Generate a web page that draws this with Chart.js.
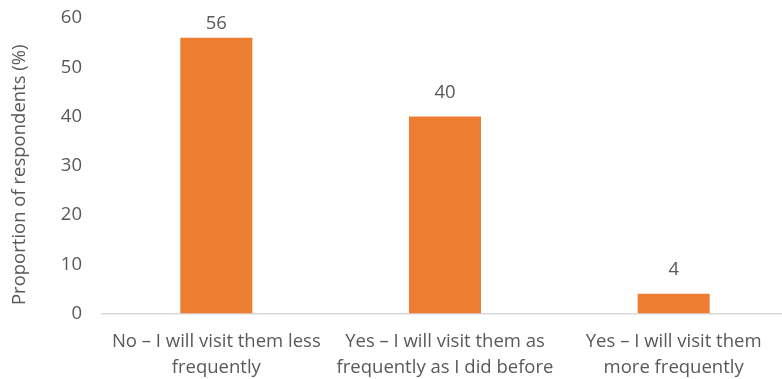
<!DOCTYPE html>
<html>
<head>
<meta charset="utf-8">
<script src="https://cdn.jsdelivr.net/npm/chart.js@4/dist/chart.umd.min.js"></script>
<style>
  html, body { margin: 0; padding: 0; background: #fff; overflow: hidden; }
  #wrap { width: 800px; height: 379px; }
</style>
</head>
<body>
<div id="wrap"><canvas id="c" width="800" height="379"></canvas></div>
<script>
// Survey answers: will respondents visit them as often as before?
const categories = [
  ["No \u2013 I will visit them less", "frequently"],
  ["Yes \u2013 I will visit them as", "frequently as I did before"],
  ["Yes \u2013 I will visit them", "more frequently"]
];
const proportions = [56, 40, 4];
const yTicks = [0, 10, 20, 30, 40, 50, 60];
const yTitle = 'Proportion of respondents (%)';

const FONT = "'Open Sans', sans-serif";
const SIZE = 18.5;
const TEXT = '#595959';

// Writes each bar's value above it, kept inside the plot area
const valueLabels = {
  id: 'valueLabels',
  afterDatasetsDraw(chart) {
    const ctx = chart.ctx;
    const meta = chart.getDatasetMeta(0);
    ctx.save();
    ctx.font = SIZE + 'px ' + FONT;
    ctx.fillStyle = TEXT;
    ctx.textAlign = 'center';
    ctx.textBaseline = 'middle';
    meta.data.forEach((bar, i) => {
      const y = Math.max(bar.y - 24, chart.chartArea.top + 6);
      ctx.fillText(String(proportions[i]), bar.x, y);
    });
    ctx.restore();
  }
};

// Vertical axis title, set a little below the plot's midline
const axisTitle = {
  id: 'axisTitle',
  afterDraw(chart) {
    const ctx = chart.ctx;
    const a = chart.chartArea;
    ctx.save();
    ctx.font = SIZE + 'px ' + FONT;
    ctx.fillStyle = TEXT;
    ctx.textAlign = 'center';
    ctx.textBaseline = 'middle';
    ctx.translate(20, (a.top + a.bottom) / 2 + 9);
    ctx.rotate(-Math.PI / 2);
    ctx.fillText(yTitle, 0, 0);
    ctx.restore();
  }
};

new Chart(document.getElementById('c'), {
  type: 'bar',
  data: {
    labels: categories,
    datasets: [{
      data: proportions,
      backgroundColor: '#ED7D31',
      borderWidth: 0,
      categoryPercentage: 1,
      barPercentage: 0.315
    }]
  },
  options: {
    responsive: false,
    animation: false,
    layout: { padding: { top: 18, right: 12, left: 0, bottom: 0 } },
    plugins: { legend: { display: false }, tooltip: { enabled: false } },
    scales: {
      x: {
        grid: { display: false, drawTicks: false },
        border: { display: true, color: '#D9D9D9', width: 1.5 },
        ticks: {
          color: TEXT,
          font: { family: FONT, size: SIZE, lineHeight: '26px' },
          padding: 15,
          maxRotation: 0,
          autoSkip: false
        },
        afterFit(scale) { scale.height = 65.5; }
      },
      y: {
        min: 0,
        max: 60,
        afterBuildTicks(scale) { scale.ticks = yTicks.map(v => ({ value: v })); },
        grid: { display: false, drawTicks: true, tickLength: 20 },
        border: { display: false },
        ticks: {
          color: TEXT,
          font: { family: FONT, size: SIZE },
          padding: 0
        },
        afterFit(scale) { scale.width = 102; }
      }
    }
  },
  plugins: [valueLabels, axisTitle]
});
</script>
</body>
</html>
